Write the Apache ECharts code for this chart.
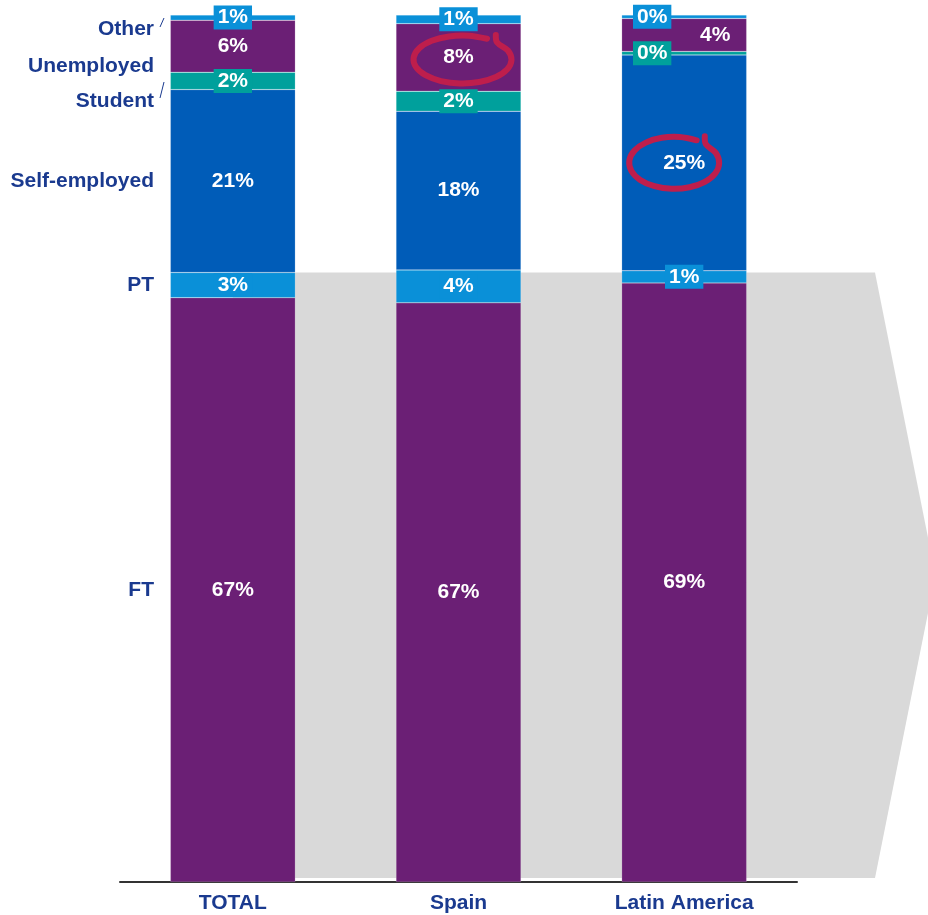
<!DOCTYPE html>
<html>
<head>
<meta charset="utf-8">
<script src="https://cdn.jsdelivr.net/npm/echarts@6/dist/echarts.min.js"></script>
<style>
  html, body { margin: 0; padding: 0; background: #fff; }
  #chart { width: 928px; height: 915px; }
</style>
</head>
<body>
<div id="chart"></div>
<script>
// Employment status by region (share of respondents, %)
const categories = ['TOTAL', 'Spain', 'Latin America'];
const ft           = [67.4, 66.8, 69.1];
const pt           = [2.9, 3.8, 1.4];
const selfEmployed = [21.1, 18.3, 24.9];
const student      = [2.0, 2.3, 0.4];
const unemployed   = [6.0, 7.8, 3.8];
const other        = [0.6, 1.0, 0.4];
const statusNames  = ['FT', 'PT', 'Self-employed', 'Student', 'Unemployed', 'Other'];

const NAVY = '#1a3a8f';
const PURPLE = '#6b1f75';
const BLUE = '#005cb8';
const LIGHT = '#0a90d8';
const TEAL = '#00a09c';
const RED = '#be1e4c';
const FONT = '"Liberation Sans", Arial, sans-serif';
const FS = 21;

const chart = echarts.init(document.getElementById('chart'));

// thin segments get a coloured box behind their value
function seriesFor(name, values, color, boxed, offsets) {
  return {
    name: name,
    type: 'bar',
    stack: 'all',
    barWidth: 125,
    z: 5,
    itemStyle: { color: color, borderColor: 'rgba(255,255,255,0.35)', borderWidth: 0.5 },
    label: {
      show: true,
      position: 'inside',
      formatter: p => Math.round(p.value) + '%',
      color: '#fff',
      fontFamily: FONT,
      fontWeight: 'bold',
      fontSize: FS,
      backgroundColor: boxed ? color : 'transparent',
      padding: boxed ? [2, 4, 1, 4] : 0
    },
    data: values.map((v, i) => {
      const item = { value: v };
      if (offsets && offsets[i]) item.label = { offset: offsets[i] };
      return item;
    })
  };
}

chart.setOption({
  animation: false,
  grid: { left: 120, right: 131, top: 15, bottom: 33 },
  xAxis: {
    type: 'category',
    data: categories,
    axisLine: { lineStyle: { color: '#333', width: 2 } },
    axisTick: { show: false },
    axisLabel: { color: NAVY, fontFamily: FONT, fontWeight: 'bold', fontSize: FS, margin: 11 }
  },
  yAxis: { type: 'value', min: 0, max: 100, show: false, splitLine: { show: false } },
  series: [
    seriesFor(statusNames[0], ft, PURPLE, false),
    seriesFor(statusNames[1], pt, LIGHT, true),
    seriesFor(statusNames[2], selfEmployed, BLUE, false),
    seriesFor(statusNames[3], student, TEAL, true, [null, null, [-32, 0]]),
    seriesFor(statusNames[4], unemployed, PURPLE, false, [null, null, [31, 0]]),
    seriesFor(statusNames[5], other, LIGHT, true, [null, null, [-32, 0]])
  ]
});

// hand-drawn style loop around a point
function loopPoints(cx, cy, rx, ry) {
  const pts = [];
  for (let a = -60; a >= -405; a -= 23) {
    const t = a * Math.PI / 180;
    pts.push([cx + rx * Math.cos(t), cy + ry * Math.sin(t)]);
  }
  pts.push([cx + rx * 0.68, cy - ry * 1.02]);
  return pts;
}

function decorate() {
  const px = (cat, val) => chart.convertToPixel({ xAxisIndex: 0, yAxisIndex: 0 }, [cat, val]);
  const base = px(categories[0], 0);
  const top = px(categories[0], 100);
  const ptTop = px(categories[0], ft[0] + pt[0]);
  const graphics = [];

  // grey arrow band behind the bars
  const gTop = ptTop[1];
  const gBottom = base[1] - 4;
  const half = (gBottom - gTop) / 2;
  graphics.push({
    type: 'polygon', z: -1,
    shape: { points: [[base[0], gTop], [875, gTop], [875 + half * 0.2, gTop + half], [875, gBottom], [base[0], gBottom]] },
    style: { fill: '#d9d9d9' }
  });

  // row labels to the left of the TOTAL bar
  const mid = (a, b) => (px(categories[0], a)[1] + px(categories[0], b)[1]) / 2;
  const c1 = ft[0], c2 = c1 + pt[0], c3 = c2 + selfEmployed[0];
  const rows = [
    ['FT', mid(0, c1)],
    ['PT', mid(c1, c2)],
    ['Self-employed', mid(c2, c3)],
    ['Student', top[1] + 86],
    ['Unemployed', top[1] + 51],
    ['Other', top[1] + 14]
  ];
  rows.forEach(([t, y]) => {
    graphics.push({
      type: 'text', z: 10, x: 154, y: y,
      style: { text: t, fill: NAVY, font: 'bold ' + FS + 'px ' + FONT, textAlign: 'right', textVerticalAlign: 'middle' }
    });
  });
  // small leader slashes
  [[top[1] + 3, top[1] + 12], [top[1] + 67, top[1] + 83]].forEach(([y1, y2]) => {
    graphics.push({
      type: 'line', z: 10,
      shape: { x1: 160, y1: y2, x2: 164, y2: y1 },
      style: { stroke: NAVY, lineWidth: 1 }
    });
  });

  // highlight loops
  const spain = px(categories[1], ft[1] + pt[1] + selfEmployed[1] + student[1] + unemployed[1] / 2);
  const latam = px(categories[2], ft[2] + pt[2] + selfEmployed[2] / 2);
  [[spain[0] + 4, spain[1] + 2, 49, 24], [latam[0] - 10, latam[1], 45, 26]].forEach(([x, y, rx, ry]) => {
    graphics.push({
      type: 'polyline', z: 20,
      shape: { points: loopPoints(x, y, rx, ry), smooth: 0.35 },
      style: { fill: null, stroke: RED, lineWidth: 6, lineCap: 'round', lineJoin: 'round' }
    });
  });

  chart.setOption({ graphic: graphics });
}
decorate();
</script>
</body>
</html>
